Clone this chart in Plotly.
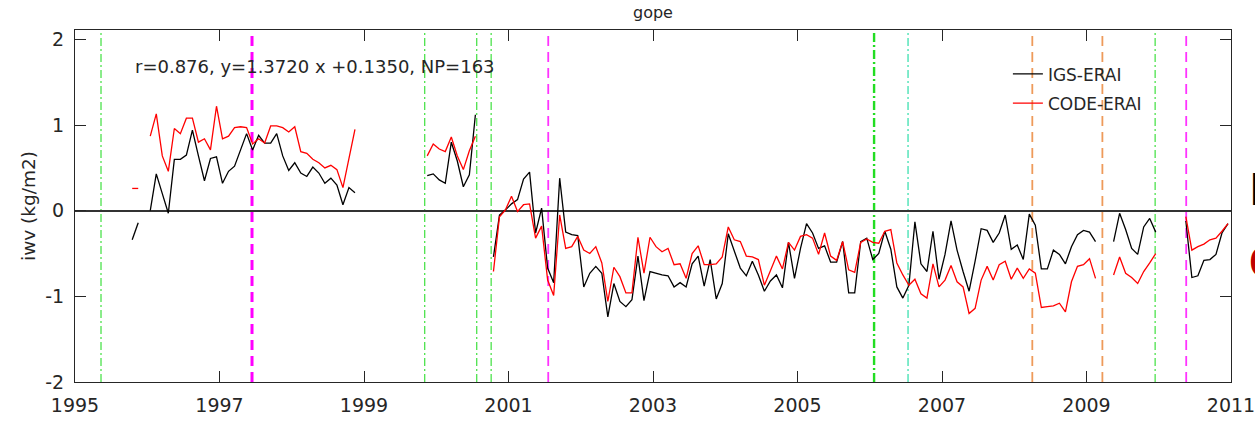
import plotly.graph_objects as go

# Monthly IWV differences at GOPE, months counted from January 1995 (0 = Jan 1995)
first_month = 9

igs_erai = [
    -0.34, -0.14, None, 0.00, 0.43, 0.20, -0.03, 0.60, 0.60, 0.65,
    0.94, 0.64, 0.35, 0.61, 0.63, 0.32, 0.46, 0.52, 0.71, 0.90,
    0.71, 0.88, 0.79, 0.79, 0.90, 0.64, 0.47, 0.56, 0.44, 0.40,
    0.51, 0.44, 0.32, 0.38, 0.30, 0.07, 0.27, 0.21,
    None, None, None, None, None, None, None, None, None, None, None,
    0.41, 0.43, 0.36, 0.32, 0.80, 0.58, 0.28, 0.42, 1.12,
    None, None,
    -0.54, -0.05, 0.01, 0.08, 0.13, 0.37, 0.45, -0.26, 0.03, -0.67,
    -0.84, 0.38, -0.25, -0.28, -0.29, -0.89, -0.73, -0.65, -0.73, -1.24,
    -0.85, -1.06, -1.12, -1.04, -0.53, -1.05, -0.71, -0.73, -0.75, -0.76,
    -0.89, -0.84, -0.89, -0.62, -0.53, -0.88, -0.57, -1.03, -0.85, -0.27,
    -0.48, -0.67, -0.76, -0.59, -0.75, -0.94, -0.82, -0.75, -0.90, -0.37,
    -0.79, -0.44, -0.15, -0.26, -0.44, -0.41, -0.60, -0.60, -0.36, -0.96,
    -0.96, -0.36, -0.32, -0.57, -0.50, -0.24, -0.45, -0.89, -1.02, -0.87,
    -0.13, -0.62, -0.71, -0.24, -0.80, -0.51, -0.12, -0.46, -0.71, -0.94,
    -0.59, -0.21, -0.23, -0.37, -0.26, -0.05, -0.45, -0.40, -0.57, -0.04,
    -0.17, -0.68, -0.68, -0.46, -0.51, -0.62, -0.42, -0.28, -0.23, -0.25,
    -0.36,
    None, None,
    -0.36, -0.03, -0.22, -0.44, -0.51, -0.19, -0.09, -0.25,
    None, None, None, None,
    -0.12, -0.78, -0.76, -0.58, -0.57, -0.51, -0.26, -0.15,
]

code_erai = [
    0.26, 0.26, None, 0.87, 1.13, 0.64, 0.46, 0.96, 0.90, 1.08,
    1.08, 0.80, 0.84, 0.71, 1.22, 0.84, 0.87, 0.97, 0.98, 0.97,
    0.78, 0.84, 0.79, 0.99, 0.99, 0.97, 0.92, 0.98, 0.69, 0.67,
    0.60, 0.56, 0.50, 0.53, 0.48, 0.27, 0.61, 0.95,
    None, None, None, None, None, None, None, None, None, None, None,
    0.64, 0.78, 0.72, 0.69, 0.86, 0.64, 0.48, 0.70, 0.87,
    None, None,
    -0.71, -0.07, 0.01, 0.17, -0.01, 0.07, 0.08, -0.32, -0.18, -0.81,
    -0.99, -0.05, -0.44, -0.42, -0.30, -0.46, -0.50, -0.42, -0.61, -1.06,
    -0.66, -0.77, -0.96, -0.96, -0.31, -0.73, -0.31, -0.42, -0.48, -0.44,
    -0.63, -0.62, -0.79, -0.50, -0.41, -0.63, -0.63, -0.62, -0.54, -0.19,
    -0.34, -0.36, -0.53, -0.54, -0.57, -0.87, -0.70, -0.53, -0.68, -0.37,
    -0.46, -0.30, -0.28, -0.32, -0.51, -0.26, -0.53, -0.58, -0.36, -0.69,
    -0.72, -0.37, -0.33, -0.37, -0.38, -0.24, -0.22, -0.61, -0.75, -0.87,
    -0.80, -0.97, -1.02, -0.62, -0.89, -0.81, -0.64, -0.83, -0.89, -1.20,
    -1.14, -0.81, -0.65, -0.81, -0.63, -0.59, -0.80, -0.67, -0.79, -0.68,
    -0.73, -1.13, -1.12, -1.11, -1.08, -1.18, -0.83, -0.65, -0.63, -0.56,
    -0.79,
    None, None,
    -0.75, -0.54, -0.73, -0.78, -0.85, -0.71, -0.61, -0.50,
    None, None, None, None,
    -0.07, -0.46, -0.42, -0.39, -0.34, -0.32, -0.24, -0.15,
]

# Station events (decimal year) and their kind
event_years = [1995.36, 1997.45, 1999.84, 2000.56, 2000.76, 2001.55,
               2006.06, 2006.53, 2008.25, 2009.22, 2009.95, 2010.38]
event_kinds = ["rcv", "ant_major", "rcv", "rcv", "rcv", "ant",
               "rcv_major", "rcv_alt", "radome", "radome", "rcv", "ant"]

x_ticks = [1995, 1997, 1999, 2001, 2003, 2005, 2007, 2009, 2011]
y_ticks = [-2, -1, 0, 1, 2]

stats_text = "r=0.876, y=1.3720 x +0.1350, NP=163"

FONT = "DejaVu Sans, Liberation Sans, Arial, sans-serif"
INK = "#262626"

event_style = {
    "rcv":       dict(color="#4de24d", width=1.3, dash="8px,3px,2px,3px"),
    "rcv_alt":   dict(color="#3ee0b0", width=1.3, dash="8px,3px,2px,3px"),
    "rcv_major": dict(color="#22dd22", width=2.4, dash="9px,3px,2px,3px"),
    "ant":       dict(color="#ff33ff", width=1.8, dash="10px,6px"),
    "ant_major": dict(color="#ff00ff", width=3.0, dash="10px,6px"),
    "radome":    dict(color="#ee9a5a", width=1.8, dash="10px,6px"),
}

months = list(range(first_month, first_month + len(igs_erai)))
years = [1995 + (m + 0.5) / 12 for m in months]

fig = go.Figure()

for yr, kind in zip(event_years, event_kinds):
    fig.add_shape(type="line", xref="x", yref="paper", x0=yr, x1=yr, y0=0, y1=1,
                  line=event_style[kind], layer="below")

fig.add_trace(go.Scatter(x=years, y=igs_erai, mode="lines", name="IGS-ERAI",
                         legendgroup="igs",
                         line=dict(color="black", width=1.3), connectgaps=False))
fig.add_trace(go.Scatter(x=years, y=code_erai, mode="lines", name="CODE-ERAI",
                         legendgroup="code",
                         line=dict(color="#ff0000", width=1.3), connectgaps=False))

fig.add_annotation(x=0.05, y=0.895, xref="paper", yref="paper", text=stats_text,
                   showarrow=False, xanchor="left", yanchor="middle",
                   font=dict(family=FONT, size=18, color=INK))

# Labels running off the right edge of the page
fig.add_annotation(x=1.0145, y=0.548, xref="paper", yref="paper", text="<b>IGS</b>",
                   showarrow=False, xanchor="left", yanchor="middle",
                   font=dict(family="Liberation Sans, Arial, sans-serif", size=46, color="black"))
fig.add_annotation(x=1.0135, y=0.34, xref="paper", yref="paper", text="<b>CODE</b>",
                   showarrow=False, xanchor="left", yanchor="middle",
                   font=dict(family="Liberation Sans, Arial, sans-serif", size=46, color="#c00000"))

fig.update_layout(
    width=1255, height=421,
    margin=dict(l=75, r=24, t=30, b=39, autoexpand=False),
    paper_bgcolor="white", plot_bgcolor="white",
    font=dict(family=FONT, color=INK),
    title=dict(text="gope", x=(75 + 1231) / 2 / 1255, xanchor="center",
               y=1 - 12 / 421, yanchor="middle", font=dict(size=16, color=INK)),
    showlegend=True,
    legend=dict(x=0.807, y=0.925, xanchor="left", yanchor="top",
                traceorder="grouped", tracegroupgap=4,
                bgcolor="rgba(255,255,255,0)", borderwidth=0,
                font=dict(size=17, color=INK)),
    xaxis=dict(range=[1995, 2011], tickvals=x_ticks, ticktext=[str(t) for t in x_ticks],
               showgrid=False, zeroline=False, showline=True, linecolor=INK,
               linewidth=1, mirror="ticks", ticks="inside", ticklen=11,
               tickcolor=INK, ticklabelstandoff=6, ticklabeloverflow="allow",
               automargin=False, tickfont=dict(size=19, color=INK)),
    yaxis=dict(range=[-2, 2.11], tickvals=y_ticks, ticktext=[str(t) for t in y_ticks],
               showgrid=False, zeroline=True, zerolinecolor="#333333", zerolinewidth=1.5,
               showline=True, linecolor=INK, linewidth=1, mirror="ticks",
               ticks="inside", ticklen=11, tickcolor=INK, ticklabelstandoff=6,
               automargin=False, tickfont=dict(size=19, color=INK),
               title=dict(text="iwv (kg/m2)", font=dict(size=18.5, color=INK), standoff=4)),
)

fig.write_html("out.html")
